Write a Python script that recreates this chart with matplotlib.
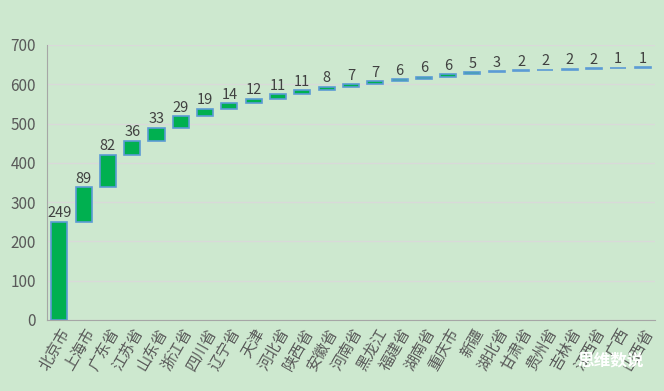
import numpy as np
import matplotlib.pyplot as plt

plt.rcParams['font.family'] = ['Noto Sans CJK SC', 'DejaVu Sans']

provinces = ["北京市", "上海市", "广东省", "江苏省", "山东省", "浙江省", "四川省", "辽宁省",
             "天津", "河北省", "陕西省", "安徽省", "河南省", "黑龙江", "福建省", "湖南省",
             "重庆市", "新疆", "湖北省", "甘肃省", "贵州省", "吉林省", "江西省", "广西", "山西省"]
counts = [249, 89, 82, 36, 33, 29, 19, 14, 12, 11, 11, 8, 7, 7, 6, 6, 6, 5, 3, 2, 2, 2, 2, 1, 1]

bg = "#cde8cf"
counts = np.array(counts)
top = np.cumsum(counts)
base = top - counts
x = np.arange(len(provinces))

fig = plt.figure(figsize=(6.64, 3.91), dpi=100, facecolor=bg)
ax = fig.add_axes([0.071, 0.182, 0.915, 0.703], facecolor=bg)

ax.bar(x, counts, bottom=base, width=0.66, color="#00b050", edgecolor="#5b9bd5", linewidth=1.2, zorder=3)
for xi, t, c in zip(x, top, counts):
    ax.text(xi, t + 4, str(c), ha="center", va="bottom", fontsize=10.5, color="#404040", zorder=4)

ax.set_xlim(-0.5, len(provinces) - 0.5)
ax.set_ylim(0, 700)
ax.set_yticks(np.arange(0, 701, 100))
ax.grid(axis="y", color="#d9d9d9", linewidth=1, zorder=0)
ax.set_xticks(x)
ax.set_xticklabels(provinces, rotation=60, ha="right", rotation_mode="anchor", fontsize=11, color="#595959")
ax.tick_params(axis="y", labelsize=11, labelcolor="#595959", length=0, pad=8)
ax.tick_params(axis="x", length=0, pad=4)
for s in ["top", "right"]:
    ax.spines[s].set_visible(False)
ax.spines["left"].set_color("#a6a6a6")
ax.spines["bottom"].set_color("#a6a6a6")

fig.text(0.92, 0.077, "思维数说", ha="center", va="center", fontsize=12, color="white", fontweight="bold")

plt.savefig("out.png", dpi=100, facecolor=bg)
